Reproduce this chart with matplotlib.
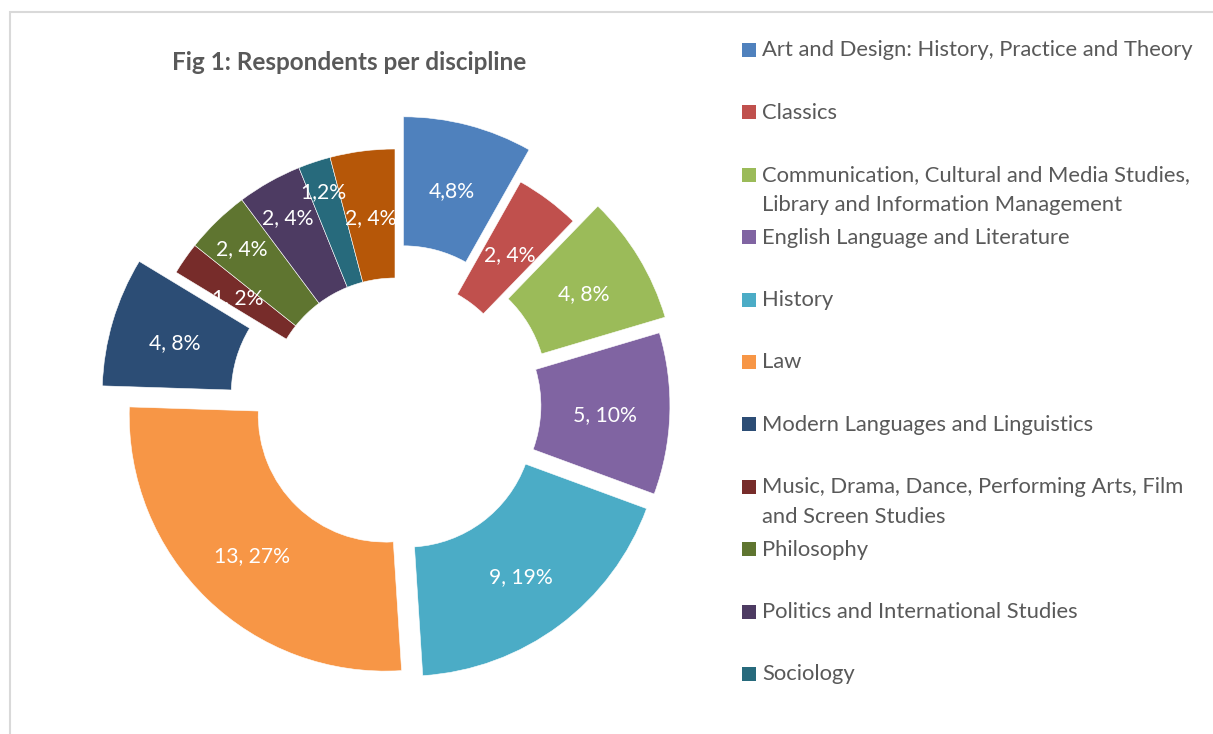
import numpy as np
import matplotlib
matplotlib.use("Agg")
import matplotlib.pyplot as plt
from matplotlib.patches import Rectangle

plt.rcParams["font.family"] = ["Lato", "DejaVu Sans"]

# data
disciplines = [
    "Art and Design: History, Practice and Theory",
    "Classics",
    "Communication, Cultural and Media Studies,\nLibrary and Information Management",
    "English Language and Literature",
    "History",
    "Law",
    "Modern Languages and Linguistics",
    "Music, Drama, Dance, Performing Arts, Film\nand Screen Studies",
    "Philosophy",
    "Politics and International Studies",
    "Sociology",
    "Theology and Religious Studies",
]
respondents = [4, 2, 4, 5, 9, 13, 4, 1, 2, 2, 1, 2]
value_labels = ["4,8%", "2, 4%", "4, 8%", "5, 10%", "9, 19%", "13, 27%",
                "4, 8%", "1, 2%", "2, 4%", "2, 4%", "1,2%", "2, 4%"]
colors = ["#4F81BD", "#C0504D", "#9BBB59", "#8064A2", "#4BACC6", "#F79646",
          "#2C4D75", "#772C2A", "#5F7530", "#4D3B62", "#276A7C", "#B65708"]
# pulled-out slices (fraction of radius)
explode = [0.13, 0, 0.113, 0.074, 0.074, 0.055, 0.15, 0, 0, 0, 0, 0]
# label distance from slice centre (Excel nudges a few small ones outwards)
label_r = [0.748, 0.748, 0.748, 0.748, 0.748, 0.748,
           0.748, 0.748, 0.862, 0.852, 0.887, 0.748]

W, H = 1213, 734
fig = plt.figure(figsize=(W / 100, H / 100), dpi=100)

# pie centre at pixel (395, 405), outer radius 256 px
CX, CY, R = 395, 405, 256
ax = fig.add_axes([0, 0, 1, 1])
wedges, _ = ax.pie(
    respondents, colors=colors, explode=explode, startangle=90,
    counterclock=False, radius=1,
    wedgeprops=dict(width=0.504, edgecolor="white", linewidth=0.4))
ax.set_xlim(-CX / R, (W - CX) / R)
ax.set_ylim(-(H - CY) / R, CY / R)

for w, txt, r in zip(wedges, value_labels, label_r):
    th = np.deg2rad((w.theta1 + w.theta2) / 2)
    x = w.center[0] + r * np.cos(th)
    y = w.center[1] + r * np.sin(th) - 0.012
    ax.text(x, y, txt, ha="center", va="center", color="white", fontsize=15.2)

# title
fig.text(349 / W, 1 - 63 / H, "Fig 1: Respondents per discipline",
         ha="center", va="center", fontsize=17.5, fontweight="bold",
         color="#595959")

# legend (Excel style: evenly spaced rows, marker on the first line)
x_box, x_txt, y0, dy, box = 742, 762, 50, 62.4, 14
for i, (name, col) in enumerate(zip(disciplines, colors)):
    y = y0 + i * dy
    if y > H - 10:
        continue
    fig.add_artist(Rectangle((x_box / W, 1 - (y + box / 2) / H), box / W, box / H,
                             transform=fig.transFigure, facecolor=col,
                             edgecolor="none"))
    fig.text(x_txt / W, 1 - (y - 9.5) / H, name, ha="left", va="top",
             fontsize=15.8, color="#595959", linespacing=1.59)

# chart area border (cropped at right and bottom)
fig.add_artist(Rectangle((10 / W, -0.1), 1.2, 1.1 - 12 / H,
                         transform=fig.transFigure, facecolor="none",
                         edgecolor="#D9D9D9", linewidth=1.5))

fig.savefig("out.png", dpi=100)
